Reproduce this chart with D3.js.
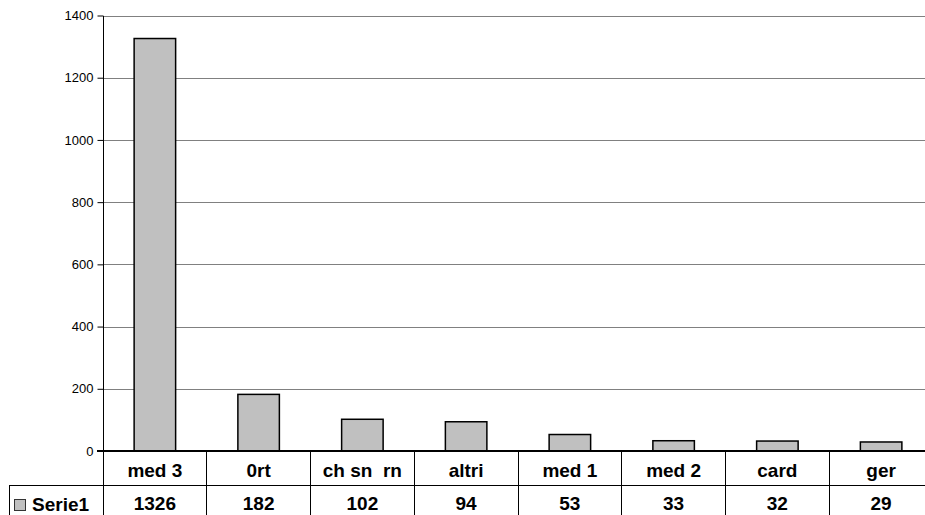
<!DOCTYPE html>
<html lang="it">
  <head>
    <meta charset="utf-8" />
    <title>Serie1</title>
    <script src="https://cdnjs.cloudflare.com/ajax/libs/d3/7.8.5/d3.min.js"></script>
    <style type="text/css">
      body {
        margin: 0;
        background: #fff;
      }
      svg {
        display: block;
        font-family: "Liberation Sans", Arial, sans-serif;
      }
      .tick text {
        font-size: 13px;
        fill: #000;
      }
      .grid line {
        stroke: #808080;
        stroke-width: 1;
      }
      .bar {
        fill: #c0c0c0;
        stroke: #000;
        stroke-width: 1.5;
      }
      .tbl {
        stroke: #000;
        stroke-width: 1;
        shape-rendering: crispEdges;
      }
      .cell {
        font-size: 19px;
        font-weight: bold;
        fill: #000;
      }
    </style>
  </head>

  <body>
    <div id="chart"></div>

    <script>
      // data
      const categories = ["med 3", "0rt", "ch sn  rn", "altri", "med 1", "med 2", "card", "ger"];
      const values = [1326, 182, 102, 94, 53, 33, 32, 29];
      const seriesName = "Serie1";
      const yTicks = [0, 200, 400, 600, 800, 1000, 1200, 1400];

      const width = 925;
      const height = 515;
      // plot area runs past the right edge (the original is cropped)
      const plot = { left: 103, right: 933, top: 15.5, bottom: 451 };
      const row1 = 485; // line between category row and value row
      const tableLeft = 9;

      const svg = d3
        .select("#chart")
        .append("svg")
        .attr("width", width)
        .attr("height", height);

      const x = d3
        .scaleBand()
        .domain(categories)
        .range([plot.left, plot.right])
        .paddingInner(0)
        .paddingOuter(0);

      const y = d3.scaleLinear().domain([0, 1400]).range([plot.bottom, plot.top]);

      // gridlines
      svg
        .append("g")
        .attr("class", "grid")
        .selectAll("line")
        .data(yTicks.filter((d) => d > 0))
        .join("line")
        .attr("x1", plot.left)
        .attr("x2", plot.right)
        .attr("y1", (d) => Math.round(y(d)) + 0.5)
        .attr("y2", (d) => Math.round(y(d)) + 0.5);

      // y axis
      const yAxis = d3
        .axisLeft(y)
        .tickValues(yTicks)
        .tickFormat(d3.format("d"))
        .tickSize(6)
        .tickPadding(4);
      const yg = svg
        .append("g")
        .attr("transform", `translate(${plot.left + 0.5},0)`)
        .call(yAxis);
      yg.select(".domain").remove();
      yg.selectAll(".tick line").attr("stroke", "#000");

      // bars
      const barW = x.bandwidth() * 0.4;
      svg
        .append("g")
        .selectAll("rect")
        .data(values)
        .join("rect")
        .attr("class", "bar")
        .attr("x", (d, i) => x(categories[i]) + (x.bandwidth() - barW) / 2)
        .attr("width", barW)
        .attr("y", (d) => y(d))
        .attr("height", (d) => y(0) - y(d));

      // axis lines and data table
      const t = svg.append("g").attr("class", "tbl");
      t.append("line")
        .attr("x1", plot.left + 0.5)
        .attr("x2", plot.left + 0.5)
        .attr("y1", plot.top)
        .attr("y2", height);
      t.append("line")
        .attr("x1", plot.left - 6)
        .attr("x2", plot.right)
        .attr("y1", plot.bottom)
        .attr("y2", plot.bottom)
        .attr("stroke-width", 2);
      t.append("line")
        .attr("x1", tableLeft)
        .attr("x2", plot.right)
        .attr("y1", row1 + 0.5)
        .attr("y2", row1 + 0.5);
      t.append("line")
        .attr("x1", tableLeft + 0.5)
        .attr("x2", tableLeft + 0.5)
        .attr("y1", row1)
        .attr("y2", height);
      t.selectAll(".sep")
        .data(categories.slice(1))
        .join("line")
        .attr("x1", (d) => x(d))
        .attr("x2", (d) => x(d))
        .attr("y1", plot.bottom)
        .attr("y2", height);

      // category row
      svg
        .append("g")
        .selectAll("text")
        .data(categories)
        .join("text")
        .attr("class", "cell")
        .attr("x", (d) => x(d) + x.bandwidth() / 2)
        .attr("y", 477)
        .attr("text-anchor", "middle")
        .attr("xml:space", "preserve")
        .style("white-space", "pre")
        .text((d) => d);

      // value row
      svg
        .append("g")
        .selectAll("text")
        .data(values)
        .join("text")
        .attr("class", "cell")
        .attr("x", (d, i) => x(categories[i]) + x.bandwidth() / 2)
        .attr("y", 510)
        .attr("text-anchor", "middle")
        .text((d) => d);

      // legend key in the table
      svg
        .append("rect")
        .attr("x", 14.5)
        .attr("y", 499.5)
        .attr("width", 11)
        .attr("height", 11)
        .attr("fill", "#c0c0c0")
        .attr("stroke", "#333")
        .attr("stroke-width", 1);
      svg
        .append("text")
        .attr("class", "cell")
        .attr("x", 32)
        .attr("y", 511)
        .text(seriesName);
    </script>
  </body>
</html>
